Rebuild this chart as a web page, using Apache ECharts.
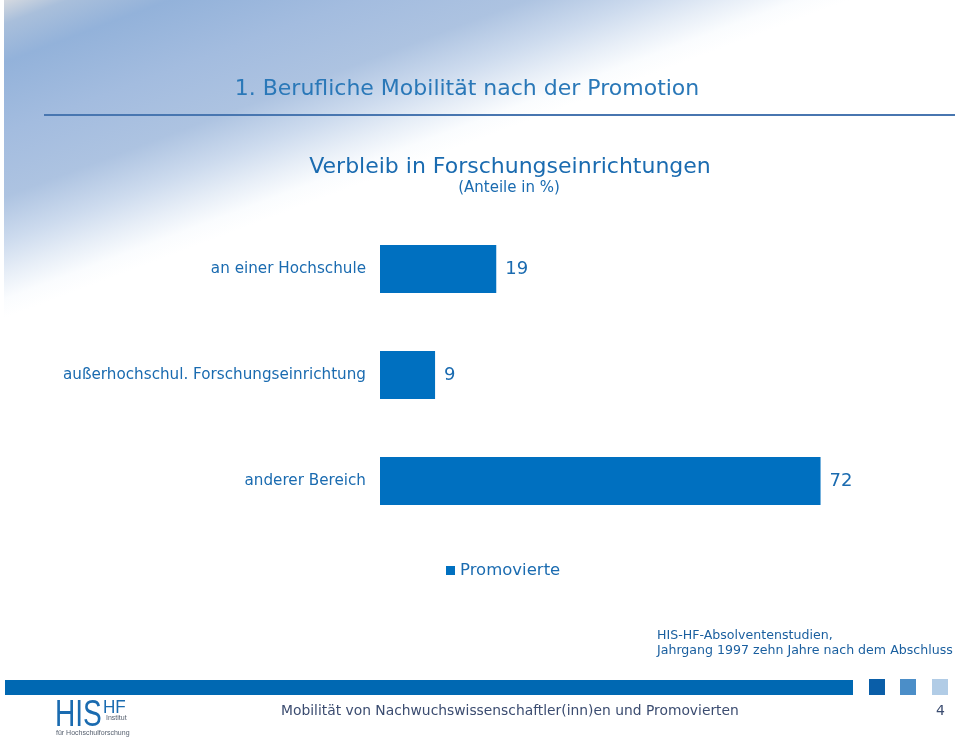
<!DOCTYPE html>
<html>
<head>
<meta charset="utf-8">
<script src="https://cdn.jsdelivr.net/npm/echarts@6/dist/echarts.min.js"></script>
<style>
  html, body { margin: 0; padding: 0; background: #ffffff; }
  #chart { width: 960px; height: 740px; }
</style>
</head>
<body>
<div id="chart"></div>
<script>
// Verbleib in Forschungseinrichtungen (Anteile in %)
const categories = ['an einer Hochschule', 'außerhochschul. Forschungseinrichtung', 'anderer Bereich'];
const values = [19, 9, 72];
const seriesName = 'Promovierte';

const FONT = '"DejaVu Sans", Verdana, sans-serif';
const LOGO_FONT = '"Liberation Sans", Arial, sans-serif';
const TEXT_BLUE = '#1a6bb0';
const BAR_BLUE = '#0070c0';

const chart = echarts.init(document.getElementById('chart'));

const option = {
  backgroundColor: '#ffffff',
  animation: false,
  title: [
    {
      text: '1. Berufliche Mobilität nach der Promotion',
      left: 462, top: 73, textAlign: 'center',
      textStyle: { color: '#2a78b8', fontFamily: FONT, fontSize: 22, fontWeight: 'normal' }
    },
    {
      text: 'Verbleib in Forschungseinrichtungen',
      left: 505, top: 151, textAlign: 'center',
      textStyle: { color: TEXT_BLUE, fontFamily: FONT, fontSize: 22, fontWeight: 'normal' }
    },
    {
      text: '(Anteile in %)',
      left: 504, top: 176, textAlign: 'center',
      textStyle: { color: TEXT_BLUE, fontFamily: FONT, fontSize: 15, fontWeight: 'normal' }
    }
  ],
  legend: {
    data: [seriesName],
    left: 441, top: 557,
    itemWidth: 9, itemHeight: 9,
    icon: 'rect',
    textStyle: { color: TEXT_BLUE, fontFamily: FONT, fontSize: 16.5 }
  },
  grid: { left: 380, right: 90.5, top: 216, bottom: 206, containLabel: false },
  xAxis: {
    type: 'value', min: 0, max: 80,
    show: false
  },
  yAxis: {
    type: 'category', data: categories, inverse: true,
    axisLine: { show: false }, axisTick: { show: false },
    axisLabel: { color: TEXT_BLUE, fontFamily: FONT, fontSize: 15.2, margin: 14 }
  },
  series: [{
    name: seriesName,
    type: 'bar',
    data: values,
    barWidth: 48,
    itemStyle: { color: BAR_BLUE },
    label: {
      show: true, position: 'right', distance: 9,
      color: TEXT_BLUE, fontFamily: FONT, fontSize: 18
    }
  }],
  graphic: [
    // diagonal blue background wash, top left
    {
      type: 'rect', z: -10, silent: true,
      shape: { x: 0, y: 0, width: 960, height: 740 },
      style: {
        fill: new echarts.graphic.LinearGradient(0, 0, 105.5, 280.3, [
          { offset: 0, color: '#d8dbe0' },
          { offset: 0.08, color: '#a9bfdb' },
          { offset: 0.2, color: '#93b2da' },
          { offset: 0.42, color: '#a3bcdf' },
          { offset: 0.62, color: '#adc3e1' },
          { offset: 0.76, color: '#cddbee' },
          { offset: 0.86, color: '#e7eef7' },
          { offset: 0.94, color: '#fafcfe' },
          { offset: 1, color: '#ffffff' }
        ], true)
      }
    },
    {
      type: 'rect', z: -9, silent: true,
      shape: { x: 0, y: 0, width: 4, height: 740 },
      style: { fill: '#ffffff' }
    },
    {
      type: 'line', silent: true,
      shape: { x1: 44, y1: 115, x2: 955, y2: 115 },
      style: { stroke: '#4876b0', lineWidth: 2 }
    },
    // source note
    {
      type: 'text', left: 657, top: 628,
      style: {
        text: 'HIS-HF-Absolventenstudien,\nJahrgang 1997 zehn Jahre nach dem Abschluss',
        fill: '#1a5f9f', font: '12.6px ' + FONT, lineHeight: 15
      }
    },
    // footer bar and squares
    { type: 'rect', shape: { x: 5, y: 680, width: 848, height: 15 }, style: { fill: '#0068b2' } },
    { type: 'rect', shape: { x: 869, y: 679, width: 16, height: 16 }, style: { fill: '#0a5ea8' } },
    { type: 'rect', shape: { x: 900, y: 679, width: 16, height: 16 }, style: { fill: '#4b8ec8' } },
    { type: 'rect', shape: { x: 932, y: 679, width: 16, height: 16 }, style: { fill: '#b1cce6' } },
    {
      type: 'text', left: 281, top: 704,
      style: {
        text: 'Mobilität von Nachwuchswissenschaftler(inn)en und Promovierten',
        fill: '#3b4c70', font: '13.85px ' + FONT
      }
    },
    {
      type: 'text', left: 936, top: 704,
      style: { text: '4', fill: '#3b4c70', font: '14px ' + FONT }
    },
    // HIS HF logo
    {
      type: 'text', x: 55, y: 698, scaleX: 0.78,
      style: { text: 'HIS', fill: '#1a6bb0', font: '36px ' + LOGO_FONT, verticalAlign: 'top' }
    },
    {
      type: 'text', x: 103, y: 698, scaleX: 0.9,
      style: { text: 'HF', fill: '#1a6bb0', font: '19px ' + LOGO_FONT, verticalAlign: 'top' }
    },
    {
      type: 'text', x: 106, y: 715,
      style: { text: 'Institut', fill: '#555f6e', font: '7px ' + LOGO_FONT, verticalAlign: 'top' }
    },
    {
      type: 'text', x: 56, y: 730,
      style: { text: 'für Hochschulforschung', fill: '#555f6e', font: '7px ' + LOGO_FONT, verticalAlign: 'top' }
    }
  ]
};

chart.setOption(option);
</script>
</body>
</html>
